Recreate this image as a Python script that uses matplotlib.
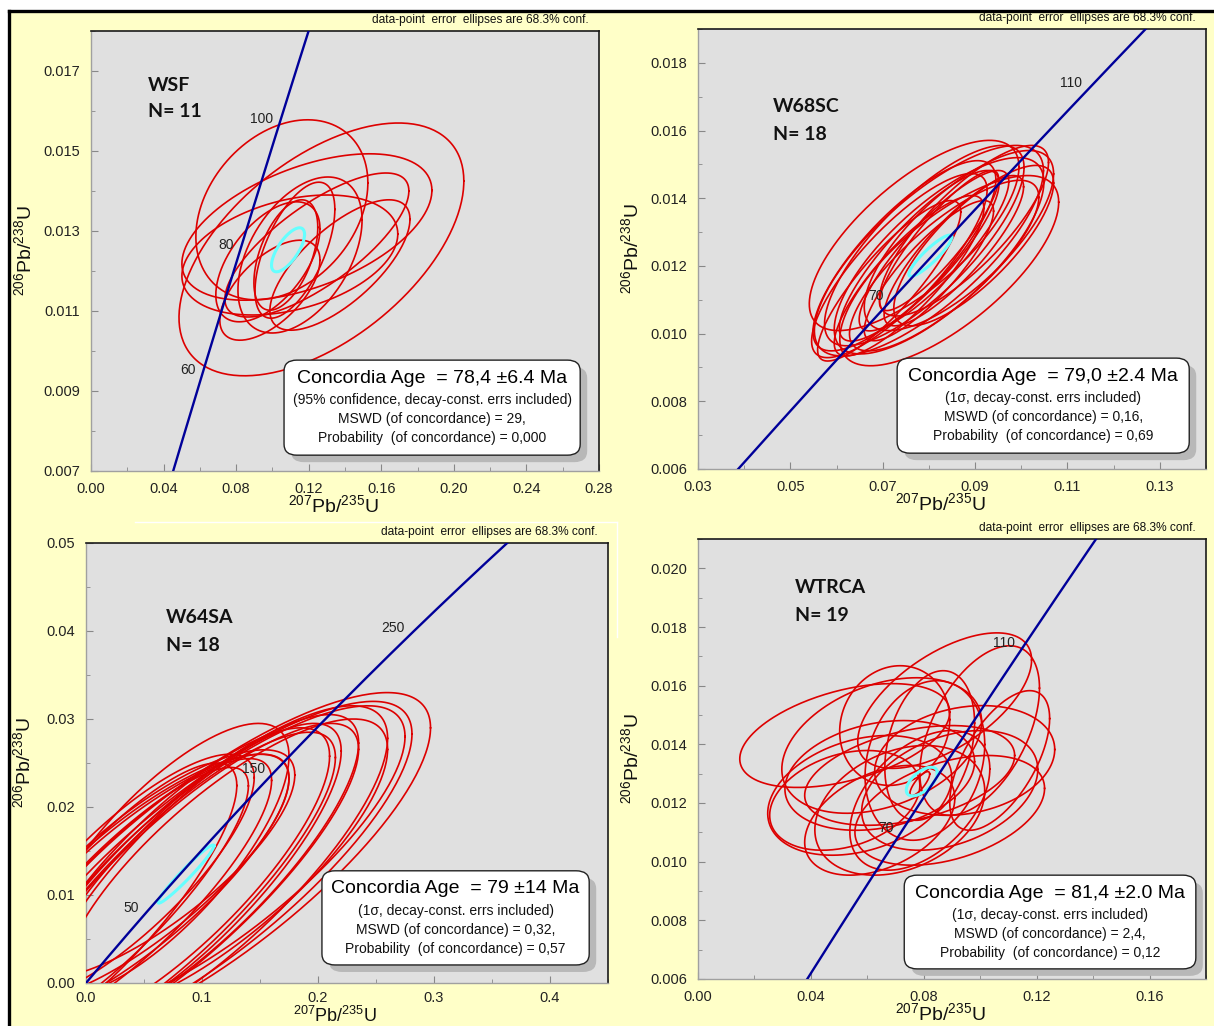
import numpy as np
import matplotlib
matplotlib.use('Agg')
import matplotlib.pyplot as plt
from matplotlib.patches import FancyBboxPatch, Rectangle
from matplotlib.lines import Line2D
from matplotlib.ticker import MultipleLocator

plt.rcParams['font.family'] = ['Liberation Sans', 'DejaVu Sans']
plt.rcParams['mathtext.fontset'] = 'custom'
plt.rcParams['mathtext.rm'] = 'Liberation Sans'
plt.rcParams['mathtext.it'] = 'Liberation Sans:italic'
plt.rcParams['mathtext.bf'] = 'Liberation Sans:bold'

# decay constants (1/yr) used for the concordia curve
L235 = 9.8485e-10
L238 = 1.55125e-10

# ---------------- WSF ----------------
wsf_cx = [0.1270, 0.1052, 0.1190, 0.1245, 0.1124, 0.1152, 0.1074, 0.0975, 0.0986, 0.1096, 0.1372]
wsf_cy = [0.01254, 0.01353, 0.01310, 0.01265, 0.01252, 0.01240, 0.01240, 0.01223, 0.01152, 0.01240, 0.01215]
wsf_ex = [0.0785, 0.0474, 0.0689, 0.0507, 0.0220, 0.0342, 0.0176, 0.0287, 0.0276, 0.0595, 0.0386]
wsf_ey = [0.00316, 0.00225, 0.00183, 0.00180, 0.00170, 0.00195, 0.00138, 0.00150, 0.00125, 0.00150, 0.00163]
wsf_rho = [0.54, 0.30, 0.50, 0.75, 0.60, 0.45, 0.50, 0.55, 0.60, 0.35, 0.70]
wsf_conc = [0.1086, 0.01253, 0.0091, 0.00055, 0.70]
wsf_ages = [60, 80, 100]
wsf_xticks = [0.00, 0.04, 0.08, 0.12, 0.16, 0.20, 0.24, 0.28]
wsf_yticks = [0.007, 0.009, 0.011, 0.013, 0.015, 0.017]
wsf_text = ['Concordia Age  = 78,4 \u00b16.4 Ma',
            '(95% confidence, decay-const. errs included)',
            'MSWD (of concordance) = 29,',
            'Probability  (of concordance) = 0,000']

# ---------------- W68SC ----------------
w68_cx = [0.0768, 0.0844, 0.0800, 0.0790, 0.0822, 0.0747, 0.0865, 0.0736, 0.0833,
          0.0779, 0.0811, 0.0854, 0.0757, 0.0876, 0.0714, 0.0897, 0.0822, 0.0800]
w68_cy = [0.01290, 0.01186, 0.01245, 0.01260, 0.01230, 0.01230, 0.01275, 0.01201, 0.01201,
          0.01230, 0.01245, 0.01245, 0.01171, 0.01304, 0.01156, 0.01260, 0.01275, 0.01186]
w68_ex = [0.0227, 0.0237, 0.0248, 0.0216, 0.0227, 0.0198, 0.0205, 0.0190, 0.0205,
          0.0173, 0.0162, 0.0151, 0.0162, 0.0183, 0.0155, 0.0173, 0.0129, 0.0140]
w68_ey = [0.00281, 0.00281, 0.00311, 0.00296, 0.00290, 0.00281, 0.00266, 0.00272, 0.00252,
          0.00252, 0.00237, 0.00222, 0.00237, 0.00252, 0.00237, 0.00237, 0.00207, 0.00207]
w68_rho = [0.72, 0.72, 0.76, 0.78, 0.75, 0.80, 0.74, 0.82, 0.80,
           0.85, 0.86, 0.85, 0.84, 0.80, 0.86, 0.78, 0.88, 0.85]
w68_conc = [0.0803, 0.0123, 0.00464, 0.00061, 0.90]
w68_ages = [70, 110]
w68_xticks = [0.03, 0.05, 0.07, 0.09, 0.11, 0.13]
w68_yticks = [0.006, 0.008, 0.010, 0.012, 0.014, 0.016, 0.018]
w68_text = ['Concordia Age  = 79,0 \u00b12.4 Ma',
            '(1\u03c3, decay-const. errs included)',
            'MSWD (of concordance) = 0,16,',
            'Probability  (of concordance) = 0,69']

# ---------------- W64SA ----------------
w64_cx = [0.040, 0.030, 0.045, 0.020, 0.050, 0.060, 0.035, 0.065, 0.110,
          0.105, 0.100, 0.095, 0.090, 0.085, 0.080, 0.115, 0.075, 0.120]
w64_cy = [0.0100, 0.0095, 0.0110, 0.0090, 0.0120, 0.0135, 0.0120, 0.0140, 0.0130,
          0.0125, 0.0120, 0.0125, 0.0120, 0.0110, 0.0120, 0.0140, 0.0105, 0.0135]
w64_ex = [0.120, 0.110, 0.130, 0.110, 0.125, 0.120, 0.110, 0.110, 0.187,
          0.176, 0.160, 0.140, 0.130, 0.150, 0.130, 0.160, 0.140, 0.140]
w64_ey = [0.0155, 0.0150, 0.0150, 0.0160, 0.0140, 0.0130, 0.0140, 0.0155, 0.0200,
          0.0195, 0.0195, 0.0180, 0.0175, 0.0185, 0.0170, 0.0175, 0.0180, 0.0165]
w64_rho = [0.84, 0.86, 0.82, 0.84, 0.80, 0.78, 0.81, 0.76, 0.80,
           0.81, 0.81, 0.82, 0.82, 0.84, 0.81, 0.80, 0.84, 0.79]
w64_conc = [0.0862, 0.01238, 0.0241, 0.0033, 0.97]
w64_ages = [50, 150, 250]
w64_xticks = [0.0, 0.1, 0.2, 0.3, 0.4]
w64_yticks = [0.00, 0.01, 0.02, 0.03, 0.04, 0.05]
w64_text = ['Concordia Age  = 79 \u00b114 Ma',
            '(1\u03c3, decay-const. errs included)',
            'MSWD (of concordance) = 0,32,',
            'Probability  (of concordance) = 0,57']

# ---------------- WTRCA ----------------
wtr_cx = [0.0874, 0.0520, 0.0651, 0.0644, 0.0573, 0.0715, 0.0892, 0.0945, 0.0804, 0.0697,
          0.0821, 0.0998, 0.0644, 0.0520, 0.0786, 0.0892, 0.0750, 0.1069, 0.0786]
wtr_cy = [0.01549, 0.01430, 0.01396, 0.01294, 0.01226, 0.01175, 0.01243, 0.01345, 0.01345, 0.01464,
          0.01396, 0.01447, 0.01141, 0.01209, 0.01209, 0.01175, 0.01294, 0.01345, 0.01266]
wtr_ex = [0.0308, 0.0372, 0.0354, 0.0336, 0.0326, 0.0301, 0.0312, 0.0319, 0.0212, 0.0195,
          0.0159, 0.0212, 0.0266, 0.0266, 0.0248, 0.0336, 0.0372, 0.0177, 0.0035]
wtr_ey = [0.00231, 0.00177, 0.00231, 0.00187, 0.00204, 0.00221, 0.00204, 0.00187, 0.00272, 0.00204,
          0.00255, 0.00289, 0.00187, 0.00170, 0.00238, 0.00187, 0.00170, 0.00238, 0.00041]
wtr_rho = [0.60, 0.45, 0.35, 0.25, 0.30, 0.30, 0.35, 0.20, 0.20, 0.10,
           0.30, 0.50, 0.40, 0.30, 0.45, 0.40, 0.40, 0.60, 0.80]
wtr_conc = [0.0793, 0.01273, 0.0055, 0.00049, 0.60]
wtr_ages = [70, 110]
wtr_xticks = [0.00, 0.04, 0.08, 0.12, 0.16]
wtr_yticks = [0.006, 0.008, 0.010, 0.012, 0.014, 0.016, 0.018, 0.020]
wtr_text = ['Concordia Age  = 81,4 \u00b12.0 Ma',
            '(1\u03c3, decay-const. errs included)',
            'MSWD (of concordance) = 2,4,',
            'Probability  (of concordance) = 0,12']

YELLOW = '#ffffc8'
PLOTBG = '#e0e0e0'
RED = '#dd0000'
BLUE = '#000099'
CYAN = '#66ffff'

W, H = 1214, 1026
fig = plt.figure(figsize=(W / 100, H / 100), dpi=100, facecolor='white')

# yellow page with black left/top border
fig.patches.append(Rectangle((9 / W, 0), 1, 1 - 11 / H, transform=fig.transFigure,
                             facecolor=YELLOW, edgecolor='none', zorder=-10))
fig.add_artist(Line2D([9 / W, 1], [1 - 11 / H, 1 - 11 / H], color='black', lw=2.4))
fig.add_artist(Line2D([9 / W, 9 / W], [0, 1 - 11 / H], color='black', lw=2.4))
fig.add_artist(Line2D([135 / W, 617 / W], [1 - 522 / H, 1 - 522 / H], color='white', lw=1))
fig.add_artist(Line2D([617 / W, 617 / W], [1 - 522 / H, 1 - 637 / H], color='white', lw=1))


def ellipse_xy(cx, cy, ex, ey, rho, n=240):
    th = np.linspace(0, 2 * np.pi, n)
    x = cx + ex * np.cos(th)
    y = cy + ey * (rho * np.cos(th) + np.sqrt(1 - rho ** 2) * np.sin(th))
    return x, y


def concordia(t_ma):
    t = np.asarray(t_ma) * 1e6
    return np.exp(L235 * t) - 1, np.exp(L238 * t) - 1


panels = [
    dict(rect=(91, 31, 508, 440), xlim=(0, 0.28), ylim=(0.007, 0.018),
         xticks=wsf_xticks, yticks=wsf_yticks, xfmt='%.2f', yfmt='%.3f', xminor=0.02, yminor=0.001,
         cx=wsf_cx, cy=wsf_cy, ex=wsf_ex, ey=wsf_ey, rho=wsf_rho, conc=wsf_conc, ages=wsf_ages,
         name='WSF', n='N= 11', name_pos=(0.112, 0.877, 0.816), box=(0.380, 0.036, 0.963, 0.252),
         lines=wsf_text, ylab_x=-0.132, xlab_y=-0.077, xlab_fs=14, xpad=8),
    dict(rect=(698, 29, 508, 440), xlim=(0.03, 0.14), ylim=(0.006, 0.019),
         xticks=w68_xticks, yticks=w68_yticks, xfmt='%.2f', yfmt='%.3f', xminor=0.01, yminor=0.001,
         cx=w68_cx, cy=w68_cy, ex=w68_ex, ey=w68_ey, rho=w68_rho, conc=w68_conc, ages=w68_ages,
         name='W68SC', n='N= 18', name_pos=(0.148, 0.823, 0.761), box=(0.392, 0.036, 0.967, 0.252),
         lines=w68_text, ylab_x=-0.132, xlab_y=-0.077, xlab_fs=14, xpad=8),
    dict(rect=(86, 543, 522, 440), xlim=(0, 0.45), ylim=(0.0, 0.05),
         xticks=w64_xticks, yticks=w64_yticks, xfmt='%.1f', yfmt='%.2f', xminor=0.05, yminor=0.005,
         cx=w64_cx, cy=w64_cy, ex=w64_ex, ey=w64_ey, rho=w64_rho, conc=w64_conc, ages=w64_ages,
         name='W64SA', n='N= 18', name_pos=(0.153, 0.830, 0.766), box=(0.452, 0.041, 0.964, 0.255),
         lines=w64_text, ylab_x=-0.120, xlab_y=-0.074, xlab_fs=13, xpad=6),
    dict(rect=(698, 539, 508, 440), xlim=(0, 0.18), ylim=(0.006, 0.021),
         xticks=wtr_xticks, yticks=wtr_yticks, xfmt='%.2f', yfmt='%.3f', xminor=0.02, yminor=0.001,
         cx=wtr_cx, cy=wtr_cy, ex=wtr_ex, ey=wtr_ey, rho=wtr_rho, conc=wtr_conc, ages=wtr_ages,
         name='WTRCA', n='N= 19', name_pos=(0.191, 0.889, 0.827), box=(0.406, 0.023, 0.980, 0.236),
         lines=wtr_text, ylab_x=-0.132, xlab_y=-0.077, xlab_fs=14, xpad=8),
]

t_curve = np.linspace(0.5, 600, 1200)

for p in panels:
    l, t, w, h = p['rect']
    ax = fig.add_axes([l / W, 1 - (t + h) / H, w / W, h / H])
    ax.set_facecolor(PLOTBG)
    ax.set_xlim(*p['xlim'])
    ax.set_ylim(*p['ylim'])

    # data-point error ellipses
    for cx, cy, ex, ey, r in zip(p['cx'], p['cy'], p['ex'], p['ey'], p['rho']):
        x, y = ellipse_xy(cx, cy, ex, ey, r)
        ax.plot(x, y, color=RED, lw=1.2, zorder=3)

    # concordia age ellipse
    x, y = ellipse_xy(*p['conc'])
    ax.plot(x, y, color=CYAN, lw=2.2, zorder=4)

    # concordia curve
    cxv, cyv = concordia(t_curve)
    ax.plot(cxv, cyv, color=BLUE, lw=1.7, zorder=5)
    for age in p['ages']:
        ax_, ay_ = concordia(age)
        ax.annotate(str(age), (ax_, ay_), xytext=(-4, 5), textcoords='offset points',
                    ha='right', va='center', fontsize=10, color='#222222', zorder=6)

    # ticks
    ax.set_xticks(p['xticks'])
    ax.set_yticks(p['yticks'])
    ax.set_xticklabels([p['xfmt'] % v for v in p['xticks']])
    ax.set_yticklabels([p['yfmt'] % v for v in p['yticks']])
    ax.xaxis.set_minor_locator(MultipleLocator(p['xminor']))
    ax.yaxis.set_minor_locator(MultipleLocator(p['yminor']))
    ax.tick_params(which='both', direction='in', color='#888888', labelsize=10.5,
                   labelcolor='#222222', top=False, right=False)
    ax.tick_params(which='major', length=5)
    ax.tick_params(axis='y', which='major', pad=8)
    ax.tick_params(axis='x', which='major', pad=p['xpad'])
    ax.tick_params(which='minor', length=3)
    for s in ['top', 'right']:
        ax.spines[s].set_color('#1a1a1a')
        ax.spines[s].set_linewidth(1.2)
    for s in ['left', 'bottom']:
        ax.spines[s].set_color('#a0a0a0')
        ax.spines[s].set_linewidth(1.0)

    # axis labels
    ax.text(0.478, p['xlab_y'], r'$^{207}$Pb/$^{235}$U', transform=ax.transAxes,
            ha='center', va='center', fontsize=p['xlab_fs'], color='#111111')
    ax.text(p['ylab_x'], 0.5, r'$^{206}$Pb/$^{238}$U', transform=ax.transAxes,
            ha='center', va='center', fontsize=14, rotation=90, color='#111111')

    ax.text(0.98, 1.024, 'data-point  error  ellipses are 68.3% conf.', transform=ax.transAxes,
            ha='right', va='center', fontsize=8.6, color='#111111')

    # sample name
    nx, ny1, ny2 = p['name_pos']
    ax.text(nx, ny1, p['name'], transform=ax.transAxes, ha='left', va='center',
            fontsize=14, fontweight='bold', family=['Lato', 'DejaVu Sans'], color='#111111')
    ax.text(nx, ny2, p['n'], transform=ax.transAxes, ha='left', va='center',
            fontsize=14, fontweight='bold', family=['Lato', 'DejaVu Sans'], color='#111111')

    # result box with shadow
    x0, y0, x1, y1 = p['box']
    dx, dy = 7 / w, 7 / h
    shadow = FancyBboxPatch((x0 + dx, y0 - dy), x1 - x0, y1 - y0,
                            boxstyle='round,pad=0,rounding_size=0.025', transform=ax.transAxes,
                            facecolor='#b8b8b8', edgecolor='none', zorder=7, clip_on=False)
    box = FancyBboxPatch((x0, y0), x1 - x0, y1 - y0,
                         boxstyle='round,pad=0,rounding_size=0.025', transform=ax.transAxes,
                         facecolor='white', edgecolor='#222222', lw=1.0, zorder=8, clip_on=False)
    ax.add_patch(shadow)
    ax.add_patch(box)
    xm = (x0 + x1) / 2
    ax.text(xm, y1 - 0.041, p['lines'][0], transform=ax.transAxes, ha='center', va='center',
            fontsize=14, color='black', zorder=9)
    for i, s in enumerate(p['lines'][1:]):
        ax.text(xm, y1 - 0.091 - 0.043 * i, s, transform=ax.transAxes, ha='center', va='center',
                fontsize=10, color='#111111', zorder=9)

fig.savefig('out.png', dpi=100, facecolor='white')
